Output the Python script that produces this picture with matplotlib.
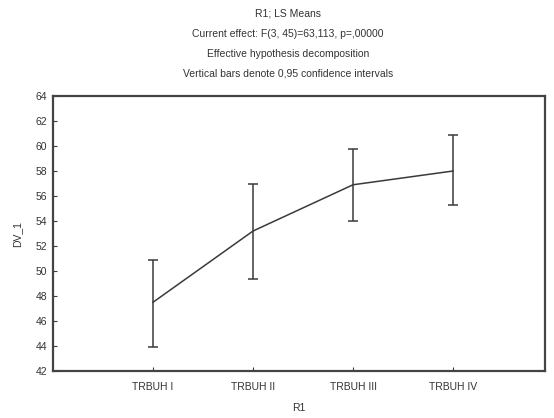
import matplotlib
matplotlib.use("Agg")
import matplotlib.pyplot as plt
import numpy as np

# LS means with 0.95 confidence intervals
categories = ["TRBUH I", "TRBUH II", "TRBUH III", "TRBUH IV"]
means = [47.5, 53.2, 56.9, 58.0]
ci_upper = [50.9, 57.0, 59.8, 60.9]
ci_lower = [43.9, 49.4, 54.0, 55.3]

plt.rcParams.update({'font.family': ['Liberation Sans', 'DejaVu Sans'], 'font.size': 7.5})
line_color = '#3a3a3a'

fig = plt.figure(figsize=(5.54, 4.18), dpi=100)
ax = fig.add_axes([0.0957, 0.1124, 0.8881, 0.6579])

x = np.arange(1, len(categories) + 1)
m = np.array(means)
yerr = [m - np.array(ci_lower), np.array(ci_upper) - m]
ax.errorbar(x, m, yerr=yerr, color=line_color, lw=1.1, elinewidth=1.1,
            capsize=3.5, capthick=1.1)

ax.set_xlim(0, 4.92)
ax.set_ylim(42, 64)
ax.set_yticks(np.arange(42, 65, 2))
ax.set_xticks(x)
ax.set_xticklabels(categories)
ax.tick_params(direction='in', length=3, color=line_color, labelcolor='#333333', pad=4)
ax.tick_params(axis='x', pad=8)
for s in ax.spines.values():
    s.set_linewidth(1.6)
    s.set_color('#444444')

ax.set_xlabel('R1', color='#333333', labelpad=8)
ax.set_ylabel('DV_1', color='#333333', labelpad=10)

titles = ["R1; LS Means",
          "Current effect: F(3, 45)=63,113, p=,00000",
          "Effective hypothesis decomposition",
          "Vertical bars denote 0,95 confidence intervals"]
for i, t in enumerate(titles):
    fig.text(0.52, 1 - (14 + 20 * i) / 418, t, ha='center', va='center', color='#333333')

fig.savefig('out.png', dpi=100)
